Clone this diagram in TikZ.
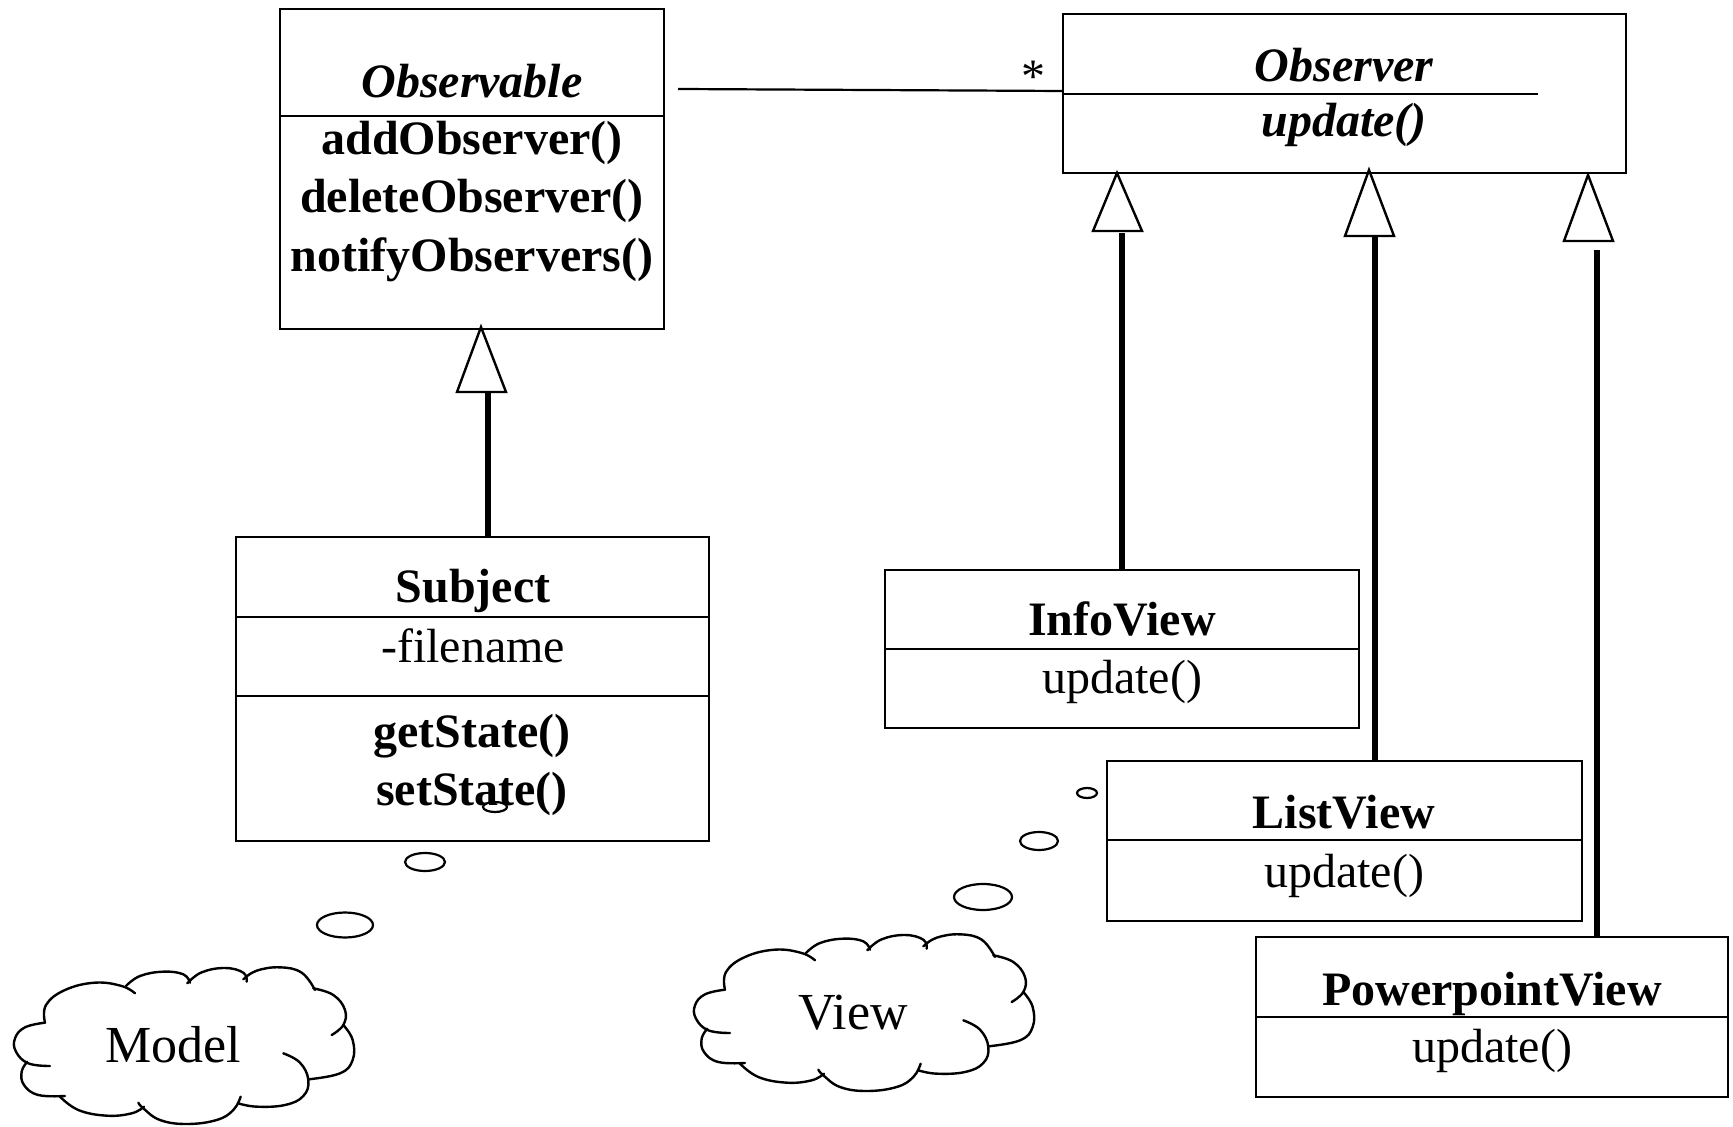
\documentclass[tikz,border=0pt]{standalone}
\usepackage{fontspec}
\setmainfont{Liberation Serif}
\usetikzlibrary{fit}

\tikzset{
  % a thought cloud drawn lobe by lobe (local units are thirds of a pixel)
  thought/.pic={
    \begin{scope}[scale=0.33333, line width=1.2pt, line cap=round]
      \draw plot[smooth, tension=0.7] coordinates {(135,248) (138,195) (195,150) (285,128) (365,138) (405,160)};
      \draw plot[smooth, tension=0.7] coordinates {(378,138) (420,108) (490,95) (550,103) (570,128)};
      \draw plot[smooth, tension=0.7] coordinates {(562,130) (605,97) (675,84) (730,98) (740,125)};
      \draw plot[smooth, tension=0.7] coordinates {(730,118) (770,92) (840,82) (905,98) (945,150)};
      \draw plot[smooth, tension=0.7] coordinates {(940,145) (1000,165) (1035,210) (1030,255) (995,285)};
      \draw plot[smooth, tension=0.7] coordinates {(1030,255) (1058,300) (1058,360) (1020,400) (925,418)};
      \draw plot[smooth, tension=0.7] coordinates {(850,340) (900,368) (925,420) (910,468) (855,495) (770,500) (715,490)};
      \draw plot[smooth, tension=0.7] coordinates {(722,470) (700,510) (650,540) (560,552) (480,540) (430,505) (415,488)};
      \draw plot[smooth, tension=0.7] coordinates {(432,500) (395,520) (320,527) (235,510) (180,470)};
      \draw plot[smooth, tension=0.7] coordinates {(195,468) (115,465) (72,435) (65,395) (82,365)};
      \draw plot[smooth, tension=0.7] coordinates {(150,378) (85,370) (48,335) (45,295) (75,262) (135,248)};
    \end{scope}
  }
}

\begin{document}
\begin{tikzpicture}[x=0.5pt, y=-0.5pt,
  box/.style={draw, line width=1.35pt, inner sep=0pt},
  divider/.style={line width=1.1pt},
  lbl/.style={anchor=base, inner sep=0pt, font=\fontsize{24}{29}\selectfont},
  bflbl/.style={lbl, font=\fontsize{24}{29}\selectfont\bfseries},
  bilbl/.style={lbl, font=\fontsize{24}{29}\selectfont\bfseries\itshape},
  cloudlbl/.style={anchor=base, inner sep=0pt, font=\fontsize{26}{30}\selectfont},
  hollow/.style={draw, fill=white, line width=1.2pt, line join=miter},
  stem/.style={line width=2.6pt},
  assoc/.style={line width=1.1pt},
  bubble/.style={line width=1.1pt}
]
\useasboundingbox (0,0) rectangle (1733,1127);

% ---- Observable ----
\node[box, fit={(280,9) (664,329)}] (observable) {};
\draw[divider] (280,116) -- (664,116);
\node[bilbl] (observableName) at (472,98) {Observable};
\node[bflbl] (addObs) at (472,155) {addObserver()};
\node[bflbl] (delObs) at (472,213) {deleteObserver()};
\node[bflbl] (notObs) at (472,272) {notifyObservers()};

% ---- Observer ----
\node[box, fit={(1063,14) (1626,173)}] (observer) {};
\draw[divider] (1063,94) -- (1538,94);
\node[bilbl] (observerName) at (1344,82) {Observer};
\node[bilbl] (observerOp) at (1344,137) {update()};

% ---- Subject ----
\node[box, fit={(236,537) (709,841)}] (subject) {};
\draw[divider] (236,617) -- (709,617);
\draw[divider] (236,696) -- (709,696);
\node[bflbl] (subjectName) at (473,603) {Subject};
\node[lbl] (subjectAttr) at (473,662) {-filename};
\node[bflbl] (getSt) at (472,747) {getState()};
\node[bflbl] (setSt) at (472,805) {setState()};

% ---- InfoView ----
\node[box, fit={(885,570) (1359,728)}] (infoview) {};
\draw[divider] (885,649) -- (1359,649);
\node[bflbl] (infoName) at (1122,635) {InfoView};
\node[lbl] (infoOp) at (1122,693) {update()};

% ---- ListView ----
\node[box, fit={(1107,761) (1582,921)}] (listview) {};
\draw[divider] (1107,840) -- (1582,840);
\node[bflbl] (listName) at (1344,828) {ListView};
\node[lbl] (listOp) at (1344,887) {update()};

% ---- PowerpointView ----
\node[box, fit={(1256,937) (1728,1097)}] (pptview) {};
\draw[divider] (1256,1017) -- (1728,1017);
\node[bflbl] (pptName) at (1492,1005) {PowerpointView};
\node[lbl] (pptOp) at (1492,1062) {update()};

% ---- association Observable -- Observer ----
\coordinate (assocStart) at (678,89);
\coordinate (assocEnd) at (1062,91);
\draw[assoc] (assocStart) -- (assocEnd);
\node[lbl] (multStar) at (1033,93) {*};

% ---- generalisation: Subject -> Observable ----
\coordinate (stemA) at (488,392);
\draw[stem] (stemA |- subject.north) -- (stemA);
\draw[hollow] (481,327) -- (506,392) -- (457,392) -- cycle;

% ---- generalisation: views -> Observer ----
\coordinate (stemB) at (1122,233);
\draw[stem] (stemB |- infoview.north) -- (stemB);
\draw[hollow] (1117,173) -- (1142,231) -- (1093,231) -- cycle;

\coordinate (stemC) at (1375,234);
\draw[stem] (stemC |- listview.north) -- (stemC);
\draw[hollow] (1369,170) -- (1394,236) -- (1345,236) -- cycle;

\coordinate (stemD) at (1597,250);
\draw[stem] (stemD |- pptview.north) -- (stemD);
\draw[hollow] (1588,175) -- (1613,241) -- (1564,241) -- cycle;

% ---- thought bubbles ----
\draw[bubble] (495,807) ellipse [x radius=12, y radius=5];
\draw[bubble] (425,862) ellipse [x radius=20, y radius=9];
\draw[bubble] (345,925) ellipse [x radius=28, y radius=12.5];

\draw[bubble] (1087,793) ellipse [x radius=10, y radius=5];
\draw[bubble] (1039,841) ellipse [x radius=19, y radius=9];
\draw[bubble] (983,897) ellipse [x radius=29, y radius=13];

% ---- clouds ----
\pic (modelCloud) at (0,940) {thought};
\node[cloudlbl] (modelLabel) at (173,1062) {Model};
\pic (viewCloud) at (680,907) {thought};
\node[cloudlbl] (viewLabel) at (853,1029) {View};
\end{tikzpicture}
\end{document}
